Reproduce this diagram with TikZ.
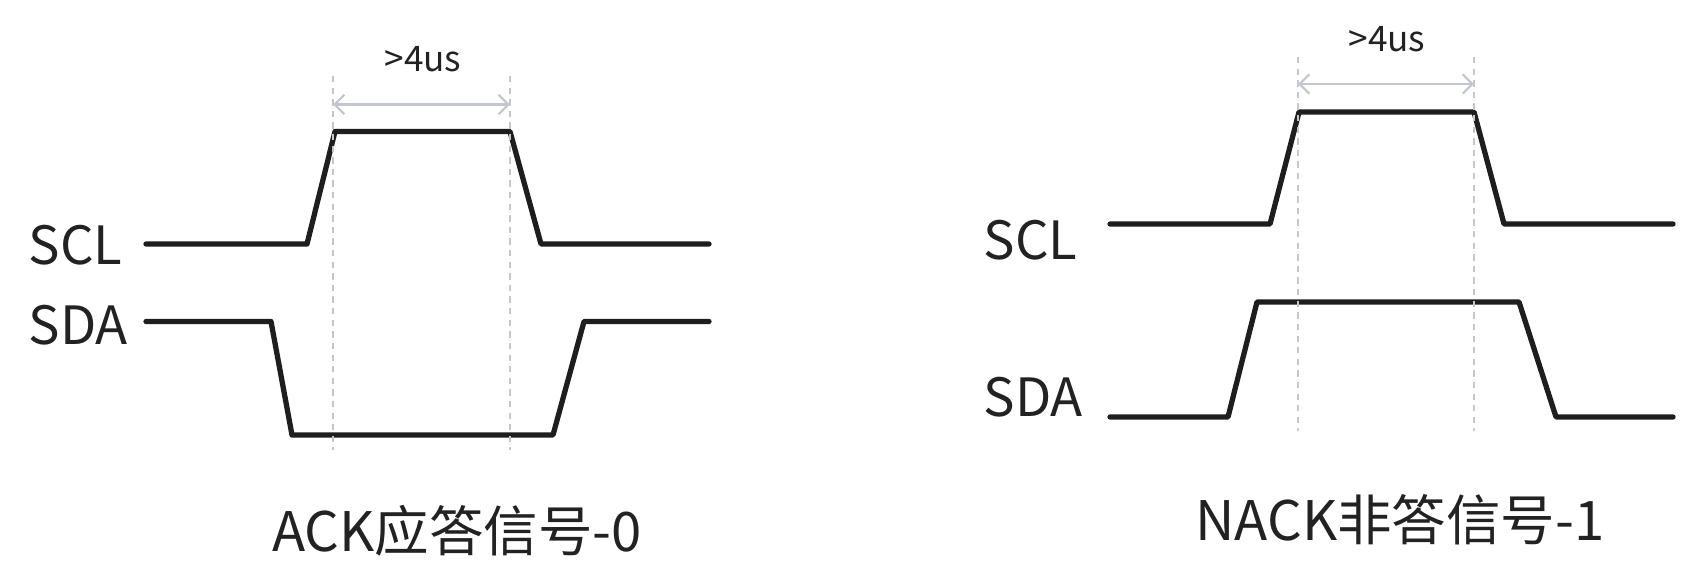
\documentclass[tikz,border=0pt]{standalone}
\usepackage{fontspec}
\setmainfont{Noto Sans CJK SC}
\usetikzlibrary{arrows.meta,positioning}
\definecolor{WaveBlack}{HTML}{1e1e1e}
\definecolor{GuideGrey}{HTML}{c3c6cc}
\definecolor{TextBlack}{HTML}{222222}

\begin{document}
\begin{tikzpicture}[%
    x=0.01cm, y=-0.01cm,%
    every node/.style={inner sep=0pt, text=TextBlack},%
    wave/.style={draw=WaveBlack, line width=1.5pt, line join=round, line cap=round},%
    guide/.style={draw=GuideGrey, line width=0.45pt, dash pattern=on 1.8pt off 1.5pt},%
    span/.style={draw=GuideGrey, line width=0.6pt,%
      {Straight Barb[length=2.8pt, width=5.5pt]}-{Straight Barb[length=2.8pt, width=5.5pt]}},%
    siglabel/.style={anchor=west, font=\fontsize{15}{17}\selectfont},%
    spanlabel/.style={font=\fontsize{10}{12}\selectfont},%
    caption/.style={font=\fontsize{15.5}{18}\selectfont}%
  ]
  \path[use as bounding box, fill=white] (0,0) rectangle (1704,580);%

  %
  % ACK
  %
  \begin{scope}
    % Signaux
    \draw[wave] (146,244) -- (307,244) -- (335,131.5) -- (510,131.5) -- (541,244) -- (709,244);%
    \draw[wave] (146,321.5) -- (271,321.5) -- (292,435) -- (553,435) -- (584,321.5) -- (709,321.5);%
    \node[siglabel] (ack scl) at (28,245) {SCL};%
    \node[siglabel] (ack sda) at (28,325) {SDA};%

    % Duree
    \foreach \n/\x in {left/333,right/510} {%
        \coordinate (ack \n\space top) at (\x,76);%
        \coordinate (ack \n\space bottom) at (\x,450);%
        \draw[guide] (ack \n\space top) -- (ack \n\space bottom);%
        \coordinate (ack \n\space tip) at (\x,104.5);%
      }%
    \draw[span] (ack left tip) -- (ack right tip);%
    \node[spanlabel] (ack time) at (423,59) {>4us};%

    % Titre
    \node[caption] (ack title) at (457,531) {ACK应答信号-0};%
  \end{scope}

  %
  % NACK
  %
  \begin{scope}
    % Signaux
    \draw[wave] (1110,224) -- (1270,224) -- (1299,112) -- (1474,112) -- (1504,224) -- (1673,224);%
    \draw[wave] (1110,417) -- (1228,417) -- (1257,302) -- (1519,302) -- (1556,417) -- (1673,417);%
    \node[siglabel] (nack scl) at (983,240) {SCL};%
    \node[siglabel] (nack sda) at (983,397) {SDA};%

    % Duree
    \foreach \n/\x in {left/1298,right/1474} {%
        \coordinate (nack \n\space top) at (\x,57);%
        \coordinate (nack \n\space bottom) at (\x,431);%
        \draw[guide] (nack \n\space top) -- (nack \n\space bottom);%
        \coordinate (nack \n\space tip) at (\x,84);%
      }%
    \draw[span] (nack left tip) -- (nack right tip);%
    \node[spanlabel] (nack time) at (1387,39) {>4us};%

    % Titre
    \node[caption] (nack title) at (1400,520) {NACK非答信号-1};%
  \end{scope}
\end{tikzpicture}
\end{document}
